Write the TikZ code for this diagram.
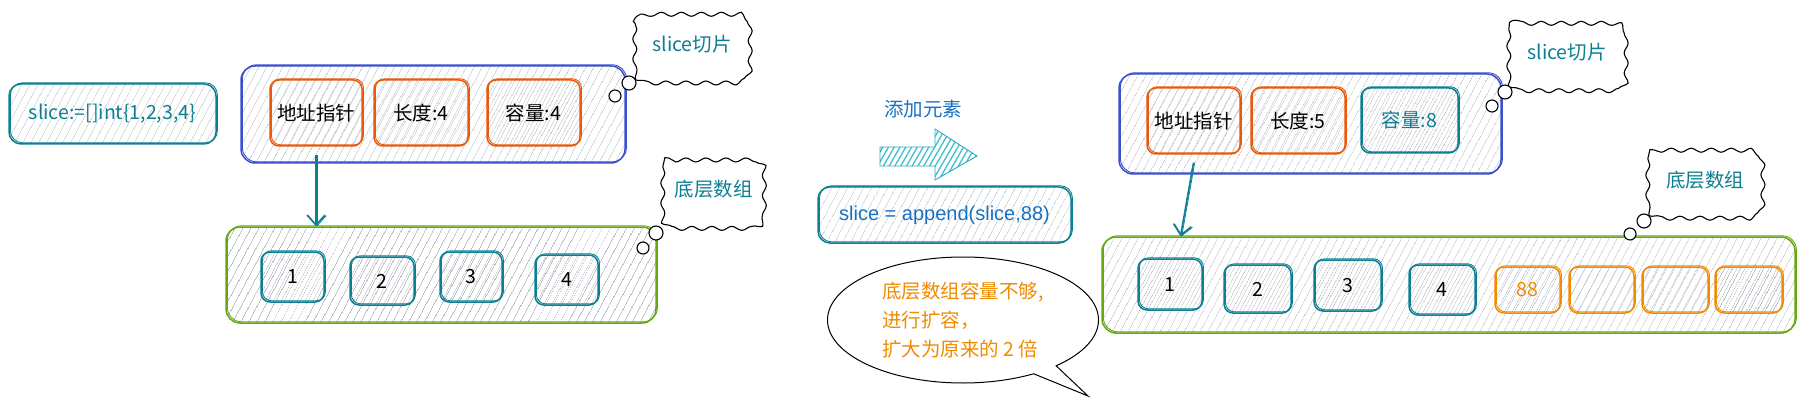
\documentclass[tikz,border=0pt]{standalone}
\usepackage{fontspec}
\setmainfont{Noto Sans CJK SC}
\newfontfamily\arialf{Liberation Sans}
\usetikzlibrary{patterns.meta,shapes.callouts,decorations.pathmorphing,arrows.meta}
\definecolor{tealc}{HTML}{0C7F93}
\definecolor{bluebox}{HTML}{3B50CE}
\definecolor{redc}{HTML}{E8590C}
\definecolor{orangec}{HTML}{F08C00}
\definecolor{greenc}{HTML}{66A80F}
\definecolor{bluet}{HTML}{1971C2}
\definecolor{hatchc}{HTML}{B9C0C7}
\definecolor{cyanc}{HTML}{3BBFD0}
\begin{document}
\begin{tikzpicture}[x=1pt,y=-1pt,
  font=\fontsize{19.5pt}{23pt}\selectfont,
  hatch/.style={pattern={Lines[angle=62,distance=6.5pt,line width=0.65pt]}, pattern color=hatchc},
  skb/.style={draw=#1, line width=1.5pt, rounded corners=12pt, hatch, inner sep=0pt,
    postaction={draw=#1, line width=0.9pt, transform canvas={shift={(1.4pt,1.2pt)}}}},
  cell/.style={skb=#1, rounded corners=9pt},
  cloudbox/.style={fill=white, text=tealc, inner sep=0pt},
  cloudline/.style={draw=black, line width=1.1pt,
    decorate, decoration={snake, segment length=20pt, amplitude=2pt}},
  bub/.style={circle, draw=black, line width=1.1pt, fill=white, inner sep=0pt},
  arr/.style={draw=tealc, line width=1.6pt, -{Straight Barb[length=10pt,width=18pt]},
    postaction={draw=tealc, line width=0.8pt, transform canvas={shift={(1.2pt,0pt)}}}}
]
\useasboundingbox (0,0) rectangle (1801,406);

% ---------- left part ----------
\node[skb=tealc, minimum width=207pt, minimum height=60pt, text=tealc] (code1) at (112.5,114) {slice:=[]int\{1,2,3,4\}};

\node[skb=bluebox, rounded corners=14pt, minimum width=384pt, minimum height=97pt] (sliceL) at (433,114.5) {};
\node[cell=redc, minimum width=92pt, minimum height=66pt] (ptrL) at (316,113) {地址指针};
\node[cell=redc, minimum width=94pt, minimum height=66pt] (lenL) at (421,113) {长度:4};
\node[cell=redc, minimum width=93pt, minimum height=66pt] (capL) at (533.5,113) {容量:4};

\node[cloudbox, minimum width=114pt, minimum height=67pt] (cl1) at (692,44.5) {slice切片};
\draw[cloudline] {[rounded corners=12pt] (cl1.north west) rectangle (cl1.south east)};
\node[bub, minimum size=14pt] (b1a) at (629,83) {};
\node[bub, minimum size=12pt] (b1b) at (615,96) {};

\node[skb=greenc, rounded corners=14pt, minimum width=430pt, minimum height=96pt] (arrL) at (441,275) {};
\node[cell=tealc, minimum width=63pt, minimum height=50pt] (l1) at (292.5,277) {1};
\node[cell=tealc, minimum width=64pt, minimum height=48pt] (l2) at (382,281) {2};
\node[cell=tealc, minimum width=62pt, minimum height=50pt] (l3) at (471,277) {3};
\node[cell=tealc, minimum width=63pt, minimum height=50pt] (l4) at (566.5,280) {4};

\node[cloudbox, minimum width=101pt, minimum height=69pt] (cl2) at (713.5,189.5) {底层数组};
\draw[cloudline] {[rounded corners=12pt] (cl2.north west) rectangle (cl2.south east)};
\node[bub, minimum size=14pt] (b2a) at (656,233) {};
\node[bub, minimum size=12pt] (b2b) at (643,248) {};

\draw[arr] ([yshift=-8pt]ptrL.south) -- (ptrL.south |- arrL.north);

% ---------- middle ----------
\node[text=bluet] (addt) at (923,109) {添加元素};
\path[pattern={Lines[angle=60,distance=5pt,line width=1.3pt]}, pattern color=cyanc,
      draw=cyanc!70!tealc, line width=0.9pt]
  (880,147) -- (935,147) -- (935,129) -- (977,156) -- (935,180) -- (935,166) -- (880,166) -- cycle;

\node[skb=tealc, minimum width=253pt, minimum height=56pt, text=bluet,
      font=\arialf\fontsize{20pt}{24pt}\selectfont] (code2) at (944.5,215) {slice = append(slice,88)};

\node[ellipse callout, draw=black, line width=1pt, fill=white,
      minimum width=271pt, minimum height=126pt,
      callout absolute pointer={(1088,396)}, callout pointer arc=12,
      align=left, text=orangec, font=\fontsize{19.5pt}{29pt}\selectfont] (sp) at (963,320)
  {底层数组容量不够,\\进行扩容，\\扩大为原来的 2 倍};

% ---------- right part ----------
\node[skb=bluebox, rounded corners=14pt, minimum width=382pt, minimum height=100pt] (sliceR) at (1310,124) {};
\node[cell=redc, minimum width=93pt, minimum height=66pt] (ptrR) at (1193.5,121) {地址指针};
\node[cell=redc, minimum width=94pt, minimum height=66pt] (lenR) at (1298,121) {长度:5};
\node[cell=tealc, minimum width=97pt, minimum height=65pt, text=tealc] (capR) at (1409.5,120.5) {容量:8};

\node[cloudbox, minimum width=116pt, minimum height=68pt] (cl3) at (1567,52) {slice切片};
\draw[cloudline] {[rounded corners=12pt] (cl3.north west) rectangle (cl3.south east)};
\node[bub, minimum size=14pt] (b3a) at (1505,92) {};
\node[bub, minimum size=12pt] (b3b) at (1492,106) {};

\node[skb=greenc, rounded corners=14pt, minimum width=693pt, minimum height=96pt] (arrR) at (1448.5,285) {};
\node[cell=tealc, minimum width=64pt, minimum height=51pt] (r1) at (1170,284.5) {1};
\node[cell=tealc, minimum width=67pt, minimum height=48pt] (r2) at (1257.5,289) {2};
\node[cell=tealc, minimum width=67pt, minimum height=51pt] (r3) at (1347.5,285.5) {3};
\node[cell=tealc, minimum width=66pt, minimum height=50pt] (r4) at (1442,290) {4};
\node[cell=orangec, minimum width=65pt, minimum height=46pt, text=orangec] (r5) at (1527.5,290) {88};
\node[cell=orangec, minimum width=65pt, minimum height=46pt] (r6) at (1601.5,290) {};
\node[cell=orangec, minimum width=66pt, minimum height=46pt] (r7) at (1675,290) {};
\node[cell=orangec, minimum width=67pt, minimum height=46pt] (r8) at (1748.5,290) {};

\node[cloudbox, minimum width=114pt, minimum height=66pt] (cl4) at (1705,180) {底层数组};
\draw[cloudline] {[rounded corners=12pt] (cl4.north west) rectangle (cl4.south east)};
\node[bub, minimum size=14pt] (b4a) at (1644,221) {};
\node[bub, minimum size=12pt] (b4b) at (1630,234) {};

\draw[arr] ([yshift=-8pt]ptrR.south) -- ([xshift=-13pt]ptrR.south |- arrR.north);
\end{tikzpicture}
\end{document}
